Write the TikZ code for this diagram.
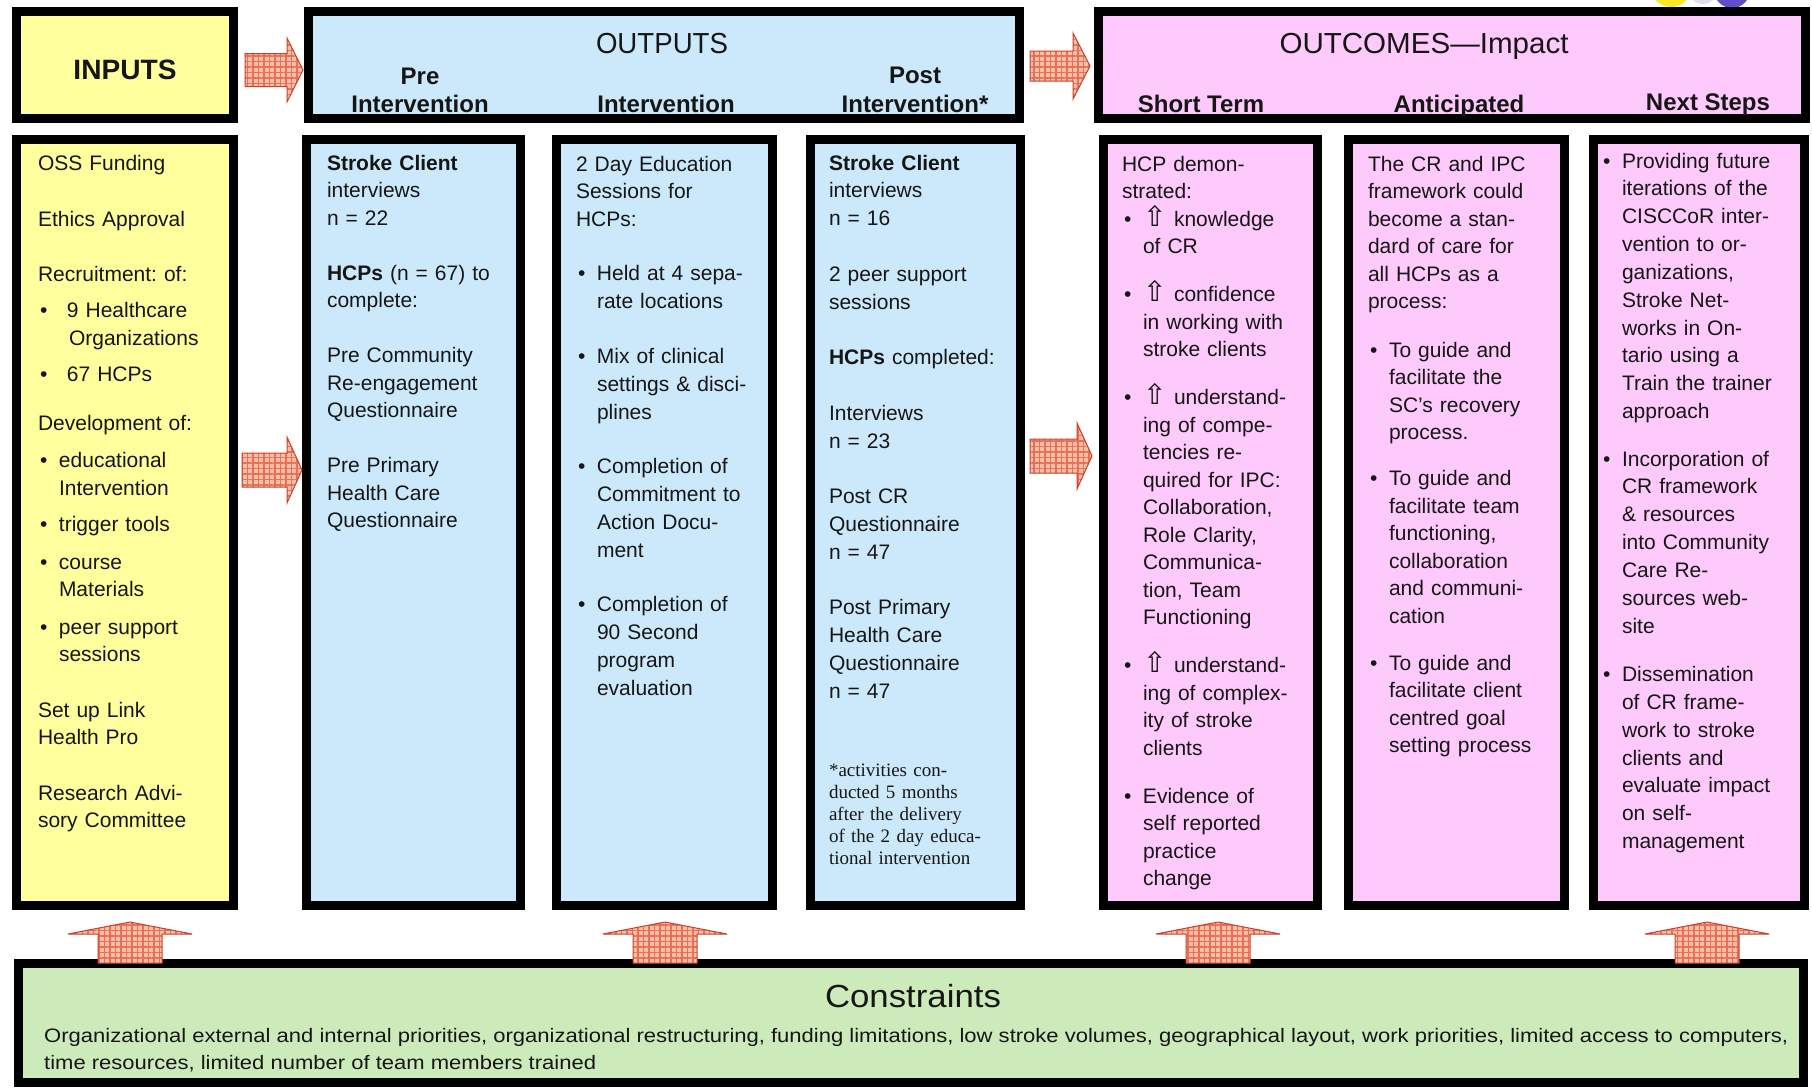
\documentclass[tikz,border=0pt]{standalone}
\usepackage{fontspec}
\setmainfont{Liberation Sans}
\newfontfamily\kserif{Liberation Serif}
\newfontfamily\ksym{DejaVu Sans}
\usepackage{graphicx}
\usetikzlibrary{patterns.meta}
\frenchspacing
\definecolor{inyellow}{RGB}{255,255,158}
\definecolor{outblue}{RGB}{204,233,251}
\definecolor{outpink}{RGB}{253,202,251}
\definecolor{consgreen}{RGB}{205,235,186}
\definecolor{arrfill}{RGB}{249,190,166}
\definecolor{arrgrid}{RGB}{232,112,88}
\definecolor{arredge}{RGB}{196,66,44}
\definecolor{ink}{RGB}{22,22,22}
\definecolor{logoyellow}{RGB}{250,232,40}
\definecolor{logogray}{RGB}{222,222,238}
\definecolor{logopurple}{RGB}{98,78,200}
\newcommand\kbul{\hspace*{2pt}\makebox[19pt][l]{\textbullet}}
\newcommand\kind{\hspace*{21pt}}
\newcommand\kbulw{\hspace*{2pt}\makebox[27pt][l]{\textbullet}}
\newcommand\kup{\makebox[31pt][l]{\ksym\fontsize{28}{28}\selectfont ⇧}}
\newcommand\panelbox[6]{%
  \node[panel, fill=#6, minimum width={(#4)-(#2)-9}, minimum height={(#5)-(#3)-9}]
    (#1) at ({((#2)+(#4))/2},{((#3)+(#5))/2}) {};}
% x1 xh x2 yc bodyhalf headhalf
\newcommand\rarrow[6]{%
  \path[blockarrow] (#1,{#4-#5}) -- (#2,{#4-#5}) -- (#2,{#4-#6}) -- (#3,#4)
    -- (#2,{#4+#6}) -- (#2,{#4+#5}) -- (#1,{#4+#5}) -- cycle;}
% xc ytop yheadbase ybottom bodyhalf headhalf
\newcommand\uarrow[6]{%
  \path[blockarrow] ({#1-#5},#4) -- ({#1-#5},#3) -- ({#1-#6},#3) -- (#1,#2)
    -- ({#1+#6},#3) -- ({#1+#5},#3) -- ({#1+#5},#4) -- cycle;}
\begin{document}
\begin{tikzpicture}[x=1pt,y=-1pt,
  panel/.style={draw=black, line width=9pt, inner sep=0pt, outer sep=0pt},
  blockarrow/.style={fill=arrfill,
    postaction={pattern={Lines[distance=5.5pt,angle=0,line width=1.1pt]}, pattern color=arrgrid},
    postaction={pattern={Lines[distance=5.5pt,angle=90,line width=1.1pt]}, pattern color=arrgrid},
    postaction={draw=arredge, line width=1pt}},
  coltext/.style={anchor=base west, inner sep=0pt, outer sep=0pt, align=left,
    text width=190pt, font=\fontsize{21}{27.5}\selectfont, text=ink},
  foot/.style={anchor=base west, inner sep=0pt, outer sep=0pt, align=left,
    text width=190pt, font=\kserif\fontsize{19}{22}\selectfont, text=ink},
  bighead/.style={anchor=base, inner sep=0pt, text=ink, font=\fontsize{29}{32}\selectfont},
  subhead/.style={anchor=base, inner sep=0pt, text=ink, font=\bfseries\fontsize{24}{26}\selectfont}]
\useasboundingbox (0,0) rectangle (1812,1090);
\fill[white] (0,0) rectangle (1812,1090);

% logo remnants at the top right
\fill[logoyellow] (1671,-14) circle (21);
\fill[logogray] (1703,-11) circle (15);
\fill[logopurple] (1732,-10) circle (18);

% header boxes
\panelbox{inputsH}{12}{7}{238}{123}{inyellow}
\panelbox{outputsH}{304}{7}{1024}{123}{outblue}
\panelbox{outcomesH}{1094}{7}{1810}{123}{outpink}

% column boxes
\panelbox{inputs}{12}{135}{238}{910}{inyellow}
\panelbox{pre}{302}{135}{525}{910}{outblue}
\panelbox{interv}{552}{135}{777}{910}{outblue}
\panelbox{post}{806}{135}{1025}{910}{outblue}
\panelbox{short}{1099}{135}{1322}{910}{outpink}
\panelbox{antic}{1344}{135}{1569}{910}{outpink}
\panelbox{next}{1589}{135}{1809}{910}{outpink}

% constraints box
\panelbox{cons}{14}{959}{1808}{1087}{consgreen}

% header texts
\node[bighead, font=\bfseries\fontsize{28}{30}\selectfont] (tInputs) at (125,79) {\resizebox{103pt}{\height}{INPUTS}};
\node[bighead] (tOutputs) at (662,53) {\resizebox{132pt}{\height}{OUTPUTS}};
\node[bighead] (tOutcomes) at (1424,53) {\resizebox{289pt}{\height}{OUTCOMES—Impact}};
\node[subhead] (tPre1) at (420,84) {Pre};
\node[subhead] (tPre2) at (420,112) {Intervention};
\node[subhead] (tInt) at (666,112) {Intervention};
\node[subhead] (tPost1) at (915,83) {Post};
\node[subhead] (tPost2) at (915,112) {Intervention*};
\node[subhead] (tShort) at (1201,112) {Short Term};
\node[subhead] (tAntic) at (1459,112) {Anticipated};
\node[subhead] (tNext) at (1708,110) {Next Steps};

% column texts
\node[coltext] (cInputs) at (38,170) {OSS Funding\\[29pt]
Ethics Approval\\[27pt]
Recruitment: of:\\[9pt]
\kbulw 9 Healthcare\\
\hspace*{31pt}Organizations\\[9pt]
\kbulw 67 HCPs\\[21pt]
Development of:\\[10pt]
\kbul educational\\
\kind Intervention\\[9pt]
\kbul trigger tools\\[10pt]
\kbul course\\
\kind Materials\\[10pt]
\kbul peer support\\
\kind sessions\\[28pt]
Set up Link\\
Health Pro\\[28pt]
Research Advi-\\
sory Committee};

\node[coltext] (cPre) at (327,170) {{\bfseries Stroke Client}\\
interviews\\
n = 22\\[27.5pt]
{\bfseries HCPs} (n = 67) to\\
complete:\\[27.5pt]
Pre Community\\
Re-engagement\\
Questionnaire\\[27.5pt]
Pre Primary\\
Health Care\\
Questionnaire};

\node[coltext, font=\fontsize{21}{27.8}\selectfont] (cInt) at (576,171) {2 Day Education\\
Sessions for\\
HCPs:\\[26.5pt]
\kbul Held at 4 sepa-\\
\kind rate locations\\[27pt]
\kbul Mix of clinical\\
\kind settings \& disci-\\
\kind plines\\[27pt]
\kbul Completion of\\
\kind Commitment to\\
\kind Action Docu-\\
\kind ment\\[26.5pt]
\kbul Completion of\\
\kind 90 Second\\
\kind program\\
\kind evaluation};

\node[coltext, font=\fontsize{21}{27.8}\selectfont] (cPost) at (829,170) {{\bfseries Stroke Client}\\
interviews\\
n = 16\\[27.8pt]
2 peer support\\
sessions\\[27.8pt]
{\bfseries HCPs} completed:\\[27.8pt]
Interviews\\
n = 23\\[27.8pt]
Post CR\\
Questionnaire\\
n = 47\\[27.8pt]
Post Primary\\
Health Care\\
Questionnaire\\
n = 47};

\node[foot] (cFoot) at (829,776) {*activities con-\\
ducted 5 months\\
after the delivery\\
of the 2 day educa-\\
tional intervention};

\node[coltext] (cShort) at (1122,171) {HCP demon-\\
strated:\\
\kbul\kup knowledge\\
\kind of CR\\[20.5pt]
\kbul\kup confidence\\
\kind in working with\\
\kind stroke clients\\[20.5pt]
\kbul\kup understand-\\
\kind ing of compe-\\
\kind tencies re-\\
\kind quired for IPC:\\
\kind Collaboration,\\
\kind Role Clarity,\\
\kind Communica-\\
\kind tion, Team\\
\kind Functioning\\[20.5pt]
\kbul\kup understand-\\
\kind ing of complex-\\
\kind ity of stroke\\
\kind clients\\[20.5pt]
\kbul Evidence of\\
\kind self reported\\
\kind practice\\
\kind change};

\node[coltext] (cAntic) at (1368,171) {The CR and IPC\\
framework could\\
become a stan-\\
dard of care for\\
all HCPs as a\\
process:\\[21pt]
\kbul To guide and\\
\kind facilitate the\\
\kind SC's recovery\\
\kind process.\\[18.5pt]
\kbul To guide and\\
\kind facilitate team\\
\kind functioning,\\
\kind collaboration\\
\kind and communi-\\
\kind cation\\[19.5pt]
\kbul To guide and\\
\kind facilitate client\\
\kind centred goal\\
\kind setting process};

\node[coltext, font=\fontsize{21}{27.85}\selectfont] (cNext) at (1601,168) {\kbul Providing future\\
\kind iterations of the\\
\kind CISCCoR inter-\\
\kind vention to or-\\
\kind ganizations,\\
\kind Stroke Net-\\
\kind works in On-\\
\kind tario using a\\
\kind Train the trainer\\
\kind approach\\[19.5pt]
\kbul Incorporation of\\
\kind CR framework\\
\kind \& resources\\
\kind into Community\\
\kind Care Re-\\
\kind sources web-\\
\kind site\\[20.5pt]
\kbul Dissemination\\
\kind of CR frame-\\
\kind work to stroke\\
\kind clients and\\
\kind evaluate impact\\
\kind on self-\\
\kind management};

% constraints text
\node[anchor=base, inner sep=0pt, text=ink, font=\fontsize{32}{36}\selectfont] (tCons) at (913,1007) {\resizebox{176pt}{\height}{Constraints}};
\node[anchor=base west, inner sep=0pt, text=ink, font=\fontsize{19.5}{27}\selectfont] (consText) at (44,1042)
  {\resizebox{1744pt}{\height}{\begin{tabular}[t]{@{}l@{}}Organizational external and internal priorities, organizational restructuring, funding limitations, low stroke volumes, geographical layout, work priorities, limited access to computers,\\
  time resources, limited number of team members trained\end{tabular}}};

% block arrows
\rarrow{245}{287}{303}{70}{16.5}{32}
\rarrow{1030}{1073}{1090}{66}{15}{33}
\rarrow{242}{287}{302}{470}{17}{33}
\rarrow{1030}{1077}{1092}{456}{17}{33}
\uarrow{130}{922}{934}{963}{32}{62}
\uarrow{665}{922}{934}{963}{32}{62}
\uarrow{1218}{922}{934}{963}{32}{62}
\uarrow{1707}{922}{934}{963}{32}{62}
\end{tikzpicture}
\end{document}
